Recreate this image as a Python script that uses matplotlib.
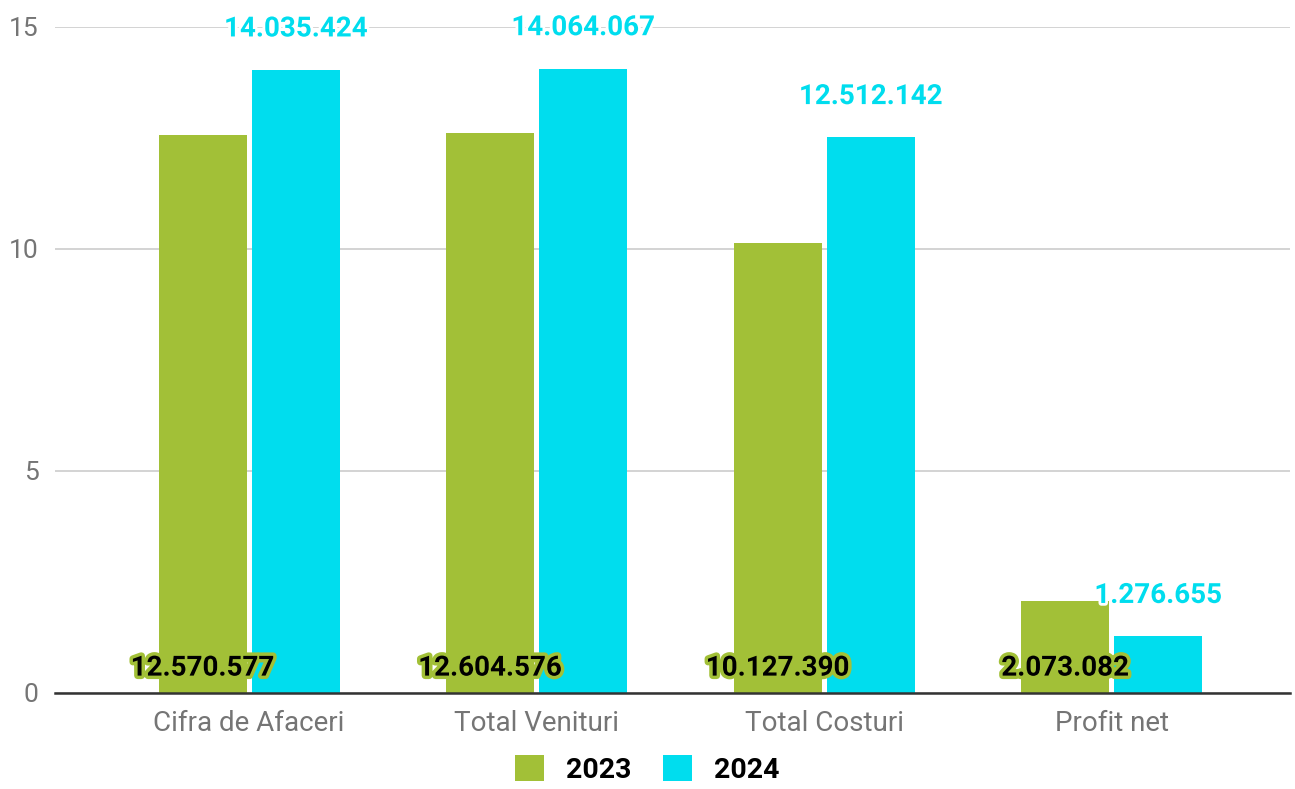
import matplotlib
matplotlib.use("Agg")
import matplotlib.pyplot as plt
import matplotlib.patheffects as pe
import numpy as np

plt.rcParams["font.family"] = ["Roboto", "DejaVu Sans"]

# data (millions)
categories = ["Cifra de Afaceri", "Total Venituri", "Total Costuri", "Profit net"]
values_2023 = [12.570577, 12.604576, 10.127390, 2.073082]
values_2024 = [14.035424, 14.064067, 12.512142, 1.276655]
labels_2023 = ["12.570.577", "12.604.576", "10.127.390", "2.073.082"]
labels_2024 = ["14.035.424", "14.064.067", "12.512.142", "1.276.655"]
yticks = [0, 5, 10, 15]

GREEN = "#A2C037"
CYAN = "#00DDEE"
GRAY = "#757575"

fig = plt.figure(figsize=(12.95, 7.89), dpi=100)
ax = fig.add_axes([0.0425, 0.1217, 0.9536, 0.8441])

x = np.arange(len(categories))
width = 0.306
gap = 0.009

b1 = ax.bar(x - width / 2 - gap, values_2023, width, color=GREEN, label="2023", zorder=3)
b2 = ax.bar(x + width / 2 + gap, values_2024, width, color=CYAN, label="2024", zorder=3)

# value labels
for xi, lab in zip(x, labels_2023):
    ax.text(xi - width / 2 - gap, 0.56, lab, ha="center", va="center",
            fontsize=20, fontweight="bold", color="black", zorder=5,
            path_effects=[pe.withStroke(linewidth=5, foreground=GREEN)])

for xi, v, lab in zip(x, values_2024, labels_2024):
    ax.text(xi + width / 2 + gap, v + 0.92, lab, ha="center", va="center",
            fontsize=20, fontweight="bold", color=CYAN, zorder=5, clip_on=False,
            path_effects=[pe.withStroke(linewidth=4, foreground="white")])

ax.set_ylim(0, 15)
ax.set_xlim(-0.675, 3.62)
ax.set_yticks(yticks)
ax.set_yticklabels([str(t) for t in yticks])
ax.set_xticks(x)
ax.set_xticklabels(categories)

ax.tick_params(axis="y", length=0, labelsize=19, labelcolor=GRAY, pad=12)
ax.tick_params(axis="x", length=0, labelsize=20, labelcolor=GRAY, pad=12)

ax.grid(axis="y", color="#CCCCCC", linewidth=1.2, zorder=0)
for s in ["top", "right", "left"]:
    ax.spines[s].set_visible(False)
ax.spines["bottom"].set_color("#333333")
ax.spines["bottom"].set_linewidth(1.8)
ax.spines["bottom"].set_zorder(4)

leg = fig.legend(handles=[b1, b2], labels=["2023", "2024"], loc="lower center",
                 bbox_to_anchor=(0.5, -0.026), ncol=2, frameon=False,
                 prop={"size": 20.5, "weight": "bold"}, handlelength=1.0,
                 handleheight=1.0, columnspacing=1.1, handletextpad=0.8)

fig.savefig("out.png", dpi=100)
